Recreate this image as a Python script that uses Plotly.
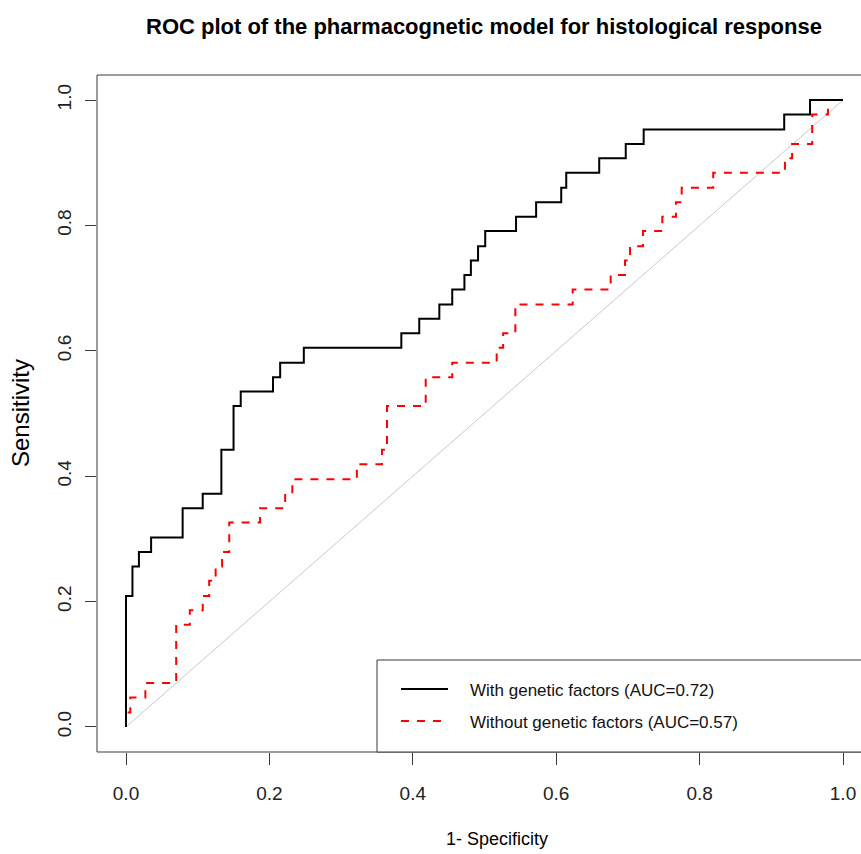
import plotly.graph_objects as go

# ---- data (step vertices: x, sensitivity after the jump) ----
with_fpr = [0, 0, 0.009, 0.018, 0.035, 0.079, 0.107, 0.133, 0.150, 0.160,
            0.205, 0.215, 0.248, 0.384, 0.409, 0.437, 0.455, 0.472, 0.481, 0.491,
            0.501, 0.544, 0.572, 0.607, 0.614, 0.660, 0.697, 0.722, 0.918, 0.954, 1.0]
with_tpr = [0, 0.209, 0.256, 0.279, 0.302, 0.349, 0.372, 0.442, 0.512, 0.535,
            0.558, 0.581, 0.605, 0.628, 0.651, 0.674, 0.698, 0.721, 0.744, 0.767,
            0.791, 0.814, 0.837, 0.860, 0.884, 0.907, 0.930, 0.953, 0.977, 1.0, 1.0]

without_fpr = [0, 0, 0.006, 0.027, 0.070, 0.089, 0.107, 0.116, 0.125, 0.134,
               0.144, 0.187, 0.222, 0.232, 0.322, 0.357, 0.364, 0.418, 0.455, 0.517,
               0.526, 0.543, 0.623, 0.676, 0.696, 0.703, 0.721, 0.748, 0.767, 0.775,
               0.819, 0.919, 0.929, 0.957, 0.979, 1.0]
without_tpr = [0, 0.023, 0.047, 0.070, 0.163, 0.186, 0.209, 0.233, 0.256, 0.279,
               0.326, 0.349, 0.372, 0.395, 0.419, 0.442, 0.512, 0.558, 0.581, 0.605,
               0.628, 0.674, 0.698, 0.721, 0.744, 0.767, 0.791, 0.814, 0.837, 0.860,
               0.884, 0.907, 0.930, 0.977, 1.0, 1.0]

diag = [0, 1]
tick_vals = [0.0, 0.2, 0.4, 0.6, 0.8, 1.0]
tick_text = ["0.0", "0.2", "0.4", "0.6", "0.8", "1.0"]

legend_labels = ["With genetic factors (AUC=0.72)", "Without genetic factors (AUC=0.57)"]
title_text = "ROC plot of the pharmacognetic model for histological response"
xlabel = "1- Specificity"
ylabel = "Sensitivity"

FONT = "Liberation Sans, Arial, sans-serif"
W, H = 861, 854
# plot area in window pixels
PL, PR, PT, PB = 97, 861, 75, 752
L, T = PL, PT
R = W - PR
B = H - PB
pw = PR - PL
ph = PB - PT

def px(xw):
    return (xw - PL) / pw

def py(yw):
    return (PB - yw) / ph

fig = go.Figure()
fig.add_trace(go.Scatter(x=diag, y=diag, mode="lines",
                         line=dict(color="#c8c8c8", width=1), showlegend=False, hoverinfo="skip"))
fig.add_trace(go.Scatter(x=without_fpr, y=without_tpr, mode="lines", line_shape="hv",
                         line=dict(color="#ff0000", width=2, dash="8px,8px"),
                         name=legend_labels[1], showlegend=False))
fig.add_trace(go.Scatter(x=with_fpr, y=with_tpr, mode="lines", line_shape="hv",
                         line=dict(color="#000000", width=2),
                         name=legend_labels[0], showlegend=False))

FRAME = "#3a3a3a"
shapes = [
    dict(type="line", xref="paper", yref="paper", x0=0, x1=0, y0=0, y1=1, line=dict(color=FRAME, width=1)),
    dict(type="line", xref="paper", yref="paper", x0=0, x1=1, y0=1, y1=1, line=dict(color=FRAME, width=1)),
    dict(type="line", xref="paper", yref="paper", x0=0, x1=1, y0=0, y1=0, line=dict(color=FRAME, width=1)),
    dict(type="rect", xref="paper", yref="paper", x0=px(377), x1=1.01, y0=0, y1=py(660),
         line=dict(color=FRAME, width=1), fillcolor="white", layer="above"),
    dict(type="line", xref="paper", yref="paper", x0=px(401), x1=px(448), y0=py(689), y1=py(689),
         line=dict(color="#000000", width=2), layer="above"),
    dict(type="line", xref="paper", yref="paper", x0=px(401), x1=px(448), y0=py(721), y1=py(721),
         line=dict(color="#ff0000", width=2, dash="8px,8px"), layer="above"),
]

annotations = [
    dict(text=legend_labels[0], xref="paper", yref="paper", x=px(468), y=py(690),
         xanchor="left", yanchor="middle", showarrow=False, font=dict(family=FONT, size=17, color="#111")),
    dict(text=legend_labels[1], xref="paper", yref="paper", x=px(468), y=py(722),
         xanchor="left", yanchor="middle", showarrow=False, font=dict(family=FONT, size=17, color="#111")),
    dict(text="<b>" + title_text + "</b>", xref="paper", yref="paper", x=px(484), y=py(26),
         xanchor="center", yanchor="middle", showarrow=False, font=dict(family=FONT, size=22, color="#000")),
    dict(text=xlabel, xref="paper", yref="paper", x=px(497), y=py(839),
         xanchor="center", yanchor="middle", showarrow=False, font=dict(family=FONT, size=18, color="#000")),
    dict(text=ylabel, xref="paper", yref="paper", x=px(21), y=py(413), textangle=-90,
         xanchor="center", yanchor="middle", showarrow=False, font=dict(family=FONT, size=24, color="#000")),
]

fig.update_layout(
    width=W, height=H, margin=dict(l=L, r=R, t=T, b=B, pad=0),
    paper_bgcolor="white", plot_bgcolor="white",
    shapes=shapes, annotations=annotations, showlegend=False,
    xaxis=dict(range=[-(126 - PL) / 717, (PR - 126) / 717], showgrid=False, zeroline=False,
               showline=False, ticks="outside", ticklen=12, tickwidth=1, tickcolor=FRAME,
               tickvals=tick_vals, ticktext=tick_text, ticklabelstandoff=12,
               ticklabeloverflow="allow",
               tickfont=dict(family=FONT, size=19, color="#222")),
    yaxis=dict(range=[-0.04, 1.04], showgrid=False, zeroline=False, showline=False,
               ticks="outside", ticklen=11, tickwidth=1, tickcolor=FRAME,
               tickvals=tick_vals, ticktext=tick_text, tickangle=-90, ticklabelstandoff=6,
               tickfont=dict(family=FONT, size=19, color="#222")),
)

fig.write_html("out.html",
               config={"displayModeBar": False},
               post_script="document.body.style.margin='0';"
                           "document.documentElement.style.overflow='hidden';"
                           "document.body.style.overflow='hidden';")
